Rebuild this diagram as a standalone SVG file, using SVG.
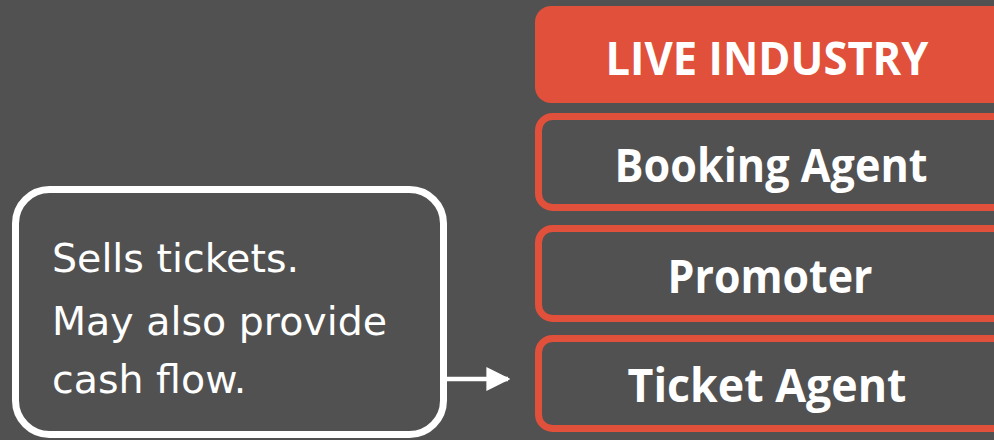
<svg xmlns="http://www.w3.org/2000/svg" width="994" height="440" viewBox="0 0 994 440">
  <defs>
    <style>
      .bg { fill: #515151; }
      .head { fill: #E0503A; }
      .role { fill: #515151; stroke: #E0503A; stroke-width: 7; }
      .note { fill: #515151; stroke: #FFFFFF; stroke-width: 7; }
      .lbl { font-family: "Open Sans", "Liberation Sans", sans-serif; font-weight: bold; font-size: 47px; fill: #FFFFFF; text-anchor: middle; }
      .txt { font-family: "DejaVu Sans", "Liberation Sans", sans-serif; font-size: 39.5px; fill: #FFFFFF; }
      .conn { stroke: #FFFFFF; stroke-width: 4.5; fill: none; }
    </style>
    <marker id="arrow" viewBox="0 0 10 10" refX="9" refY="5" markerUnits="userSpaceOnUse" markerWidth="24" markerHeight="24" orient="auto">
      <path d="M0,0 L10,5 L0,10 Z" fill="#FFFFFF"/>
    </marker>
  </defs>
  <rect class="bg" x="0" y="0" width="994" height="440"/>

  <g id="live-industry">
    <rect class="head" x="535" y="6" width="480" height="97" rx="16"/>
    <text class="lbl" x="767" y="75" textLength="323" lengthAdjust="spacingAndGlyphs">LIVE INDUSTRY</text>
  </g>
  <g id="booking-agent">
    <rect class="role" x="538.5" y="116.5" width="480" height="91" rx="14"/>
    <text class="lbl" x="771" y="182" textLength="313" lengthAdjust="spacingAndGlyphs">Booking Agent</text>
  </g>
  <g id="promoter">
    <rect class="role" x="538.5" y="228.5" width="480" height="90" rx="14"/>
    <text class="lbl" x="770" y="293" textLength="205" lengthAdjust="spacingAndGlyphs">Promoter</text>
  </g>
  <g id="ticket-agent">
    <rect class="role" x="538.5" y="338.5" width="480" height="90" rx="14"/>
    <text class="lbl" x="767" y="402" textLength="279" lengthAdjust="spacingAndGlyphs">Ticket Agent</text>
  </g>

  <g id="note">
    <rect class="note" x="15.5" y="189.5" width="428" height="245" rx="34"/>
    <text class="txt" x="52" y="272">Sells tickets.</text>
    <text class="txt" x="52" y="335">May also provide</text>
    <text class="txt" x="52" y="393">cash flow.</text>
  </g>

  <g id="connectors">
    <line class="conn" x1="447" y1="379" x2="508" y2="379" marker-end="url(#arrow)"/>
  </g>
</svg>
